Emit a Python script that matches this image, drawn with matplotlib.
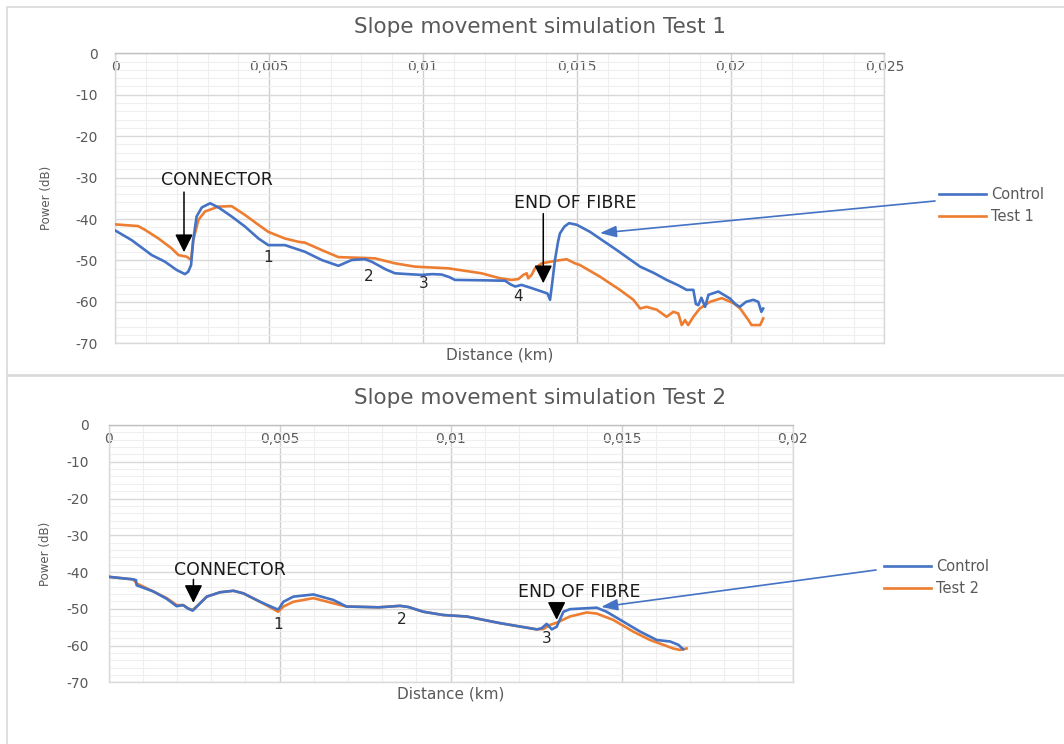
import matplotlib
matplotlib.use("Agg")
import matplotlib.pyplot as plt
from matplotlib.ticker import MultipleLocator, FuncFormatter
from matplotlib.patches import Rectangle

# ---------------- data (distance in km, power in dB) ----------------
t1_control_x = [0, 0.00053, 0.00118, 0.00161, 0.00199, 0.00226, 0.00237, 0.00246, 0.00253,
                0.00264, 0.00281, 0.00308, 0.00335, 0.00378, 0.00421, 0.00465, 0.00497,
                0.00551, 0.00616, 0.00671, 0.00725, 0.00768, 0.00811, 0.00833, 0.0088,
                0.00909, 0.0095, 0.00996, 0.0103, 0.0106, 0.01085, 0.01104, 0.0120,
                0.01267, 0.01285, 0.0130, 0.0132, 0.0135, 0.01386, 0.01405, 0.01413,
                0.0142, 0.01429, 0.01439, 0.01445, 0.0146, 0.01475, 0.0150, 0.01543,
                0.0163, 0.01706, 0.0175, 0.01792, 0.0183, 0.01857, 0.01879, 0.01887,
                0.01895, 0.01905, 0.01917, 0.01928, 0.0196, 0.01998, 0.02015, 0.0203,
                0.0205, 0.02074, 0.0209, 0.0210, 0.02106]
t1_control_y = [-42.8, -45.1, -48.7, -50.3, -52.3, -53.3, -52.7, -51.1, -45.1,
                -39.4, -37.2, -36.2, -37.2, -39.4, -41.8, -44.7, -46.3,
                -46.3, -47.9, -49.9, -51.3, -49.9, -49.7, -50.3, -52.2,
                -53.1, -53.3, -53.5, -53.3, -53.4, -54.0, -54.7, -54.8,
                -54.9, -55.8, -56.3, -55.9, -56.6, -57.5, -58.0, -59.5,
                -55.5, -49.9, -45.5, -43.5, -41.8, -41.0, -41.4, -43.1,
                -47.5, -51.5, -53.0, -54.7, -56.0, -57.1, -57.1, -60.5,
                -60.8, -59.0, -61.2, -58.3, -57.5, -59.2, -60.5, -61.2,
                -60.0, -59.5, -60.0, -62.4, -61.6]

t1_test_x = [0, 0.00074, 0.00096, 0.0014, 0.00183, 0.00205, 0.00232, 0.00246, 0.00253,
             0.0027, 0.00291, 0.00335, 0.00378, 0.00421, 0.00465, 0.00497, 0.00551,
             0.00595, 0.00616, 0.00671, 0.00725, 0.00811, 0.00844, 0.00909, 0.00974,
             0.01082, 0.0119, 0.0125, 0.01288, 0.0131, 0.01326, 0.01337, 0.01342,
             0.01353, 0.01364, 0.01386, 0.01429, 0.01467, 0.01494, 0.0151, 0.01575,
             0.0164, 0.01684, 0.01706, 0.01727, 0.0176, 0.01792, 0.01814, 0.0183,
             0.01841, 0.01852, 0.01862, 0.01879, 0.0190, 0.01933, 0.01971, 0.02009,
             0.02031, 0.02058, 0.02068, 0.02096, 0.02106]
t1_test_y = [-41.3, -41.7, -42.6, -44.7, -47.1, -48.7, -49.1, -49.9, -45.1,
             -40.2, -38.2, -37.0, -36.9, -39.0, -41.4, -43.1, -44.7,
             -45.5, -45.7, -47.5, -49.2, -49.4, -49.5, -50.7, -51.5,
             -51.9, -53.1, -54.3, -54.7, -54.5, -53.5, -53.1, -54.3,
             -53.5, -51.9, -50.7, -50.1, -49.7, -50.7, -51.1, -53.9,
             -57.1, -59.5, -61.6, -61.2, -61.9, -63.6, -62.4, -62.8,
             -65.6, -64.4, -65.6, -63.6, -61.6, -60.0, -59.1, -60.3,
             -61.6, -64.4, -65.6, -65.6, -64.0]

t2_control_x = [0, 0.00072, 0.0008, 0.00082, 0.00131, 0.0017, 0.00199, 0.00218, 0.00233,
                0.00246, 0.00262, 0.00287, 0.00326, 0.00365, 0.00394, 0.00443, 0.00492,
                0.00498, 0.00511, 0.0054, 0.00599, 0.00657, 0.00696, 0.00706, 0.0079,
                0.00852, 0.00876, 0.0092, 0.00979, 0.01047, 0.01144, 0.01252, 0.01266,
                0.01281, 0.01296, 0.0131, 0.0133, 0.01349, 0.01388, 0.01427, 0.01456,
                0.01505, 0.01554, 0.01603, 0.01642, 0.01666, 0.0168]
t2_control_y = [-41.3, -42.0, -42.2, -43.6, -45.3, -47.3, -49.3, -49.0, -50.0,
                -50.5, -49.0, -46.7, -45.5, -45.1, -45.8, -48.1, -50.1,
                -50.0, -48.1, -46.7, -46.1, -47.6, -49.4, -49.4, -49.6,
                -49.2, -49.5, -50.8, -51.7, -52.1, -53.9, -55.6, -55.3,
                -54.1, -55.6, -54.9, -50.8, -50.1, -49.9, -49.7, -50.8,
                -53.5, -56.2, -58.5, -58.9, -59.8, -61.0]

t2_test_x = [0, 0.00072, 0.00082, 0.00131, 0.0017, 0.00199, 0.00218, 0.00233, 0.00246,
             0.00262, 0.00287, 0.00326, 0.00365, 0.00394, 0.00443, 0.00496, 0.00511,
             0.0054, 0.00599, 0.00657, 0.00696, 0.00706, 0.0079, 0.00852, 0.00876,
             0.0092, 0.00979, 0.01047, 0.01144, 0.01252, 0.01271, 0.0129, 0.0131,
             0.01349, 0.01398, 0.01427, 0.01475, 0.01534, 0.01583, 0.01622, 0.01651,
             0.01671, 0.0169]
t2_test_y = [-41.3, -42.0, -43.1, -45.3, -47.1, -49.0, -49.0, -49.9, -50.3,
             -49.0, -46.7, -45.5, -45.1, -45.8, -48.1, -50.8, -49.4,
             -48.1, -47.1, -48.5, -49.4, -49.4, -49.6, -49.2, -49.5,
             -50.8, -51.7, -52.1, -53.9, -55.6, -55.5, -54.4, -53.8,
             -52.1, -51.0, -51.3, -53.0, -56.2, -58.5, -59.8, -60.8,
             -61.2, -60.8]

titles = ["Slope movement simulation Test 1", "Slope movement simulation Test 2"]
series_names = [["Control", "Test 1"], ["Control", "Test 2"]]
x_limits = [0.025, 0.02]

# annotation anchors (distance, power)
connector_tip = [(0.00223, -48.0), (0.00248, -48.4)]
connector_tail = [(0.00223, -33.5), (0.00248, -42.0)]
connector_text = [(0.0033, -30.6), (0.00355, -39.4)]
end_tip = [(0.01391, -55.5), (0.0131, -53.0)]
end_tail = [(0.01391, -38.7), (0.0131, -48.6)]
end_text = [(0.01494, -36.2), (0.01376, -45.3)]
event_labels = [
    [("1", 0.00496, -49.4), ("2", 0.00823, -53.8), ("3", 0.01001, -55.6), ("4", 0.0131, -58.75)],
    [("1", 0.00496, -54.4), ("2", 0.00857, -53.0), ("3", 0.01281, -58.2)],
]
pointer_head = [(0.01575, -43.4), (0.0144, -49.5)]

BLUE = "#4472C4"
ORANGE = "#ED7D31"
GREY_TXT = "#595959"
FONT = "DejaVu Sans"
plt.rcParams["font.family"] = [FONT]

W, H = 1064, 744
fig = plt.figure(figsize=(W / 100, H / 100), dpi=100)

# panel frames
fig.patches.append(Rectangle((7 / W, 1 - 375 / H), 1.2, (375 - 7) / H, transform=fig.transFigure,
                             fill=False, edgecolor="#d9d9d9", lw=1.2))
fig.patches.append(Rectangle((7 / W, -0.2), 1.2, 1 - 376 / H + 0.2, transform=fig.transFigure,
                             fill=False, edgecolor="#d9d9d9", lw=1.2))

ax_rects = [
    [115.4 / W, 1 - 343.3 / H, 769 / W, 290 / H],
    [108.6 / W, 1 - 682.3 / H, 684 / W, 257.3 / H],
]
title_y = [27, 398]
ylabel_x = [-0.081, -0.083]
legend_anchor = [(939 / W, 1 - 187 / H), (884 / W, 1 - 559 / H)]
pointer_tail = [(935 / W, 1 - 201 / H), (876 / W, 1 - 570 / H)]
tick_pads_y = [12.8, 14.3]

data = [
    ((t1_control_x, t1_control_y), (t1_test_x, t1_test_y)),
    ((t2_control_x, t2_control_y), (t2_test_x, t2_test_y)),
]

comma_fmt = FuncFormatter(lambda v, p: ("%g" % round(v, 6)).replace(".", ","))
int_fmt = FuncFormatter(lambda v, p: "%d" % round(v))

for i in range(2):
    ax = fig.add_axes(ax_rects[i])
    (cx, cy), (tx, ty) = data[i]
    l1, = ax.plot(cx, cy, color=BLUE, lw=1.9, label=series_names[i][0], zorder=4)
    l2, = ax.plot(tx, ty, color=ORANGE, lw=1.9, label=series_names[i][1], zorder=3)

    ax.set_xlim(0, x_limits[i])
    ax.set_ylim(-70, 0)
    ax.xaxis.set_major_locator(MultipleLocator(0.005))
    ax.xaxis.set_minor_locator(MultipleLocator(0.001))
    ax.yaxis.set_major_locator(MultipleLocator(10))
    ax.yaxis.set_minor_locator(MultipleLocator(2))
    ax.xaxis.set_major_formatter(comma_fmt)
    ax.yaxis.set_major_formatter(int_fmt)

    ax.grid(which="major", axis="x", color="#cfcfcf", lw=1.0)
    ax.grid(which="major", axis="y", color="#d9d9d9", lw=1.0)
    ax.grid(which="minor", color="#efefef", lw=0.8)
    ax.set_axisbelow(True)
    for s in ax.spines.values():
        s.set_color("#d9d9d9")
        s.set_linewidth(1.0)
    ax.spines["top"].set_color("#bfbfbf")

    ax.xaxis.set_ticks_position("top")
    ax.tick_params(axis="x", which="both", length=0, labeltop=True, labelbottom=False,
                   pad=-14.8, labelsize=10, labelcolor=GREY_TXT)
    ax.tick_params(axis="y", which="both", length=0, pad=tick_pads_y[i],
                   labelsize=10, labelcolor=GREY_TXT)

    ax.set_xlabel("Distance (km)", fontsize=11, color=GREY_TXT, labelpad=3)
    ax.xaxis.set_label_position("bottom")
    ax.set_ylabel("Power (dB)", fontsize=8.5, color=GREY_TXT)
    ax.yaxis.set_label_coords(ylabel_x[i], 0.5)

    fig.text(540 / W, 1 - title_y[i] / H, titles[i], ha="center", va="center",
             fontsize=15.5, color=GREY_TXT)

    # event markers
    ax.annotate("", xy=connector_tip[i], xytext=connector_tail[i],
                arrowprops=dict(arrowstyle="-|>,head_length=1.1,head_width=0.55",
                                color="black", lw=1.1, mutation_scale=10, shrinkA=0, shrinkB=0))
    ax.text(*connector_text[i], "CONNECTOR", ha="center", va="center", fontsize=12.5,
            color="#1a1a1a")
    ax.annotate("", xy=end_tip[i], xytext=end_tail[i],
                arrowprops=dict(arrowstyle="-|>,head_length=1.1,head_width=0.55",
                                color="black", lw=1.1, mutation_scale=10, shrinkA=0, shrinkB=0))
    ax.text(*end_text[i], "END OF FIBRE", ha="center", va="center", fontsize=12.5,
            color="#1a1a1a")
    for lab, lx, ly in event_labels[i]:
        ax.text(lx, ly, lab, ha="center", va="center", fontsize=11, color="#262626")

    # pointer from legend to control curve
    ax.annotate("", xy=pointer_head[i], xycoords="data",
                xytext=pointer_tail[i], textcoords="figure fraction",
                arrowprops=dict(arrowstyle="-|>,head_length=1.0,head_width=0.35",
                                color=BLUE, lw=1.2, mutation_scale=10, shrinkA=0, shrinkB=0),
                annotation_clip=False)

    leg = fig.legend(handles=[l1, l2], loc="upper left", bbox_to_anchor=legend_anchor[i],
                     frameon=False, fontsize=10.5, handlelength=3.2, handletextpad=0.35,
                     borderpad=0, borderaxespad=0, labelspacing=0.5)
    for t in leg.get_texts():
        t.set_color(GREY_TXT)

fig.savefig("out.png", dpi=100, facecolor="white")
